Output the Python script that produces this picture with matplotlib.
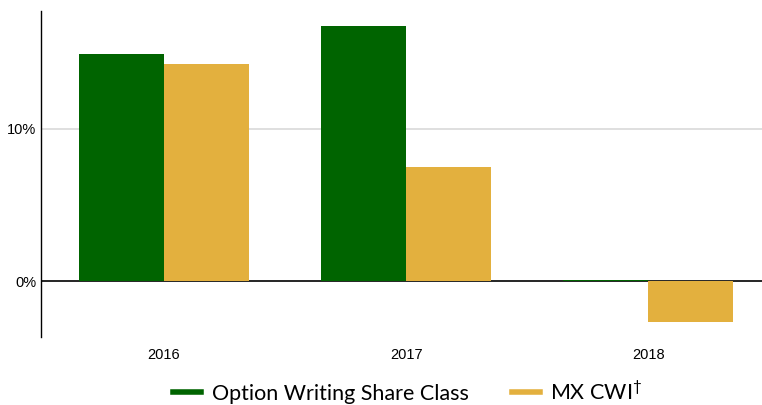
import matplotlib
matplotlib.use("Agg")
import matplotlib.pyplot as plt
import numpy as np
from matplotlib.lines import Line2D

years = ["2016", "2017", "2018"]
option_writing = [14.93, 16.78, 0.08]
mx_cwi = [14.28, 7.5, -2.68]
series_names = ["Option Writing Share Class", "MX CWI$^{\\dagger}$"]
colors = ["#006400", "#E3B03E"]

fig = plt.figure(figsize=(7.62, 4.05), dpi=100)
ax = fig.add_axes([40.5 / 762, 1 - 336.7 / 405, 1 - 40.5 / 762, (336.7 - 11) / 405])

x = np.arange(len(years))
w = 0.35
ax.bar(x - w / 2, option_writing, width=w, color=colors[0], zorder=3)
ax.bar(x + w / 2, mx_cwi, width=w, color=colors[1], zorder=3)

ax.set_xlim(-0.51, 2.47)
ax.set_ylim(-3.66, 17.76)
ax.set_yticks([0, 10])
ax.set_yticklabels(["0%", "10%"], family="Liberation Sans", fontsize=10.5)
ax.set_xticks(x)
ax.set_xticklabels(years, family="Liberation Sans", fontsize=10.5)
ax.tick_params(axis="both", length=0)
ax.tick_params(axis="x", pad=8)
ax.tick_params(axis="y", pad=3)
ax.axhline(10, color="#d9d9d9", lw=1.2, zorder=1)
ax.axhline(0, color="black", lw=1.2, zorder=2)
for s in ["top", "right", "bottom"]:
    ax.spines[s].set_visible(False)
ax.spines["left"].set_linewidth(1.0)

plt.rcParams["mathtext.fontset"] = "custom"
plt.rcParams["mathtext.rm"] = "Lato"
handles = [Line2D([0], [0], color=c, lw=4) for c in colors]
fig.legend(handles, series_names, loc="center", bbox_to_anchor=(0.535, 1 - 392 / 405),
           ncol=2, frameon=False, prop={"family": "Lato", "size": 15.5},
           handlelength=1.3, columnspacing=2.0, handletextpad=0.5)

fig.savefig("out.png", dpi=100)
